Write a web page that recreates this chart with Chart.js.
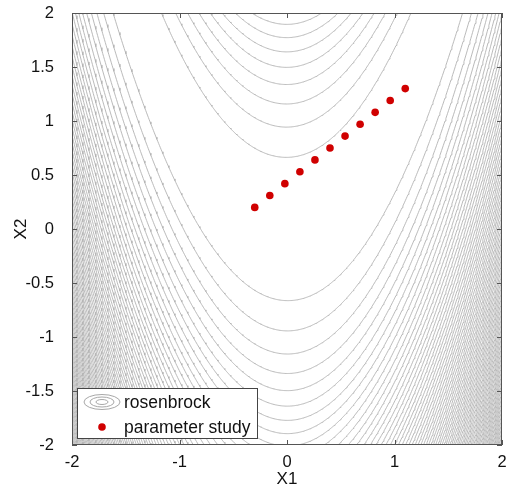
<!DOCTYPE html>
<html>
<head>
<meta charset="utf-8">
<script src="https://cdn.jsdelivr.net/npm/chart.js@4.4.1/dist/chart.umd.min.js"></script>
<style>
  html, body { margin: 0; padding: 0; background: #fff; }
  #wrap { width: 506px; height: 492px; }
</style>
</head>
<body>
<div id="wrap"><canvas id="c" width="506" height="492"></canvas></div>
<script>
// Series names shown in the legend
const seriesNames = ['rosenbrock', 'parameter study'];

// Contour levels of the Rosenbrock function f = (1-x1)^2 + 100(x2-x1^2)^2
const contourLevels = [
  45, 90, 135, 180, 225, 270, 315, 360, 405, 450,
  495, 540, 585, 630, 675, 720, 765, 810, 855, 900,
  945, 990, 1035, 1080, 1125, 1170, 1215, 1260, 1305, 1350,
  1395, 1440, 1485, 1530, 1575, 1620, 1665, 1710, 1755, 1800,
  1845, 1890, 1935, 1980, 2025, 2070, 2115, 2160, 2205, 2250,
  2295, 2340, 2385, 2430, 2475, 2520, 2565, 2610, 2655, 2700,
  2745, 2790, 2835, 2880, 2925, 2970, 3015, 3060, 3105, 3150,
  3195, 3240, 3285, 3330, 3375, 3420, 3465, 3510, 3555, 3600
];

// Parameter study sample points
const studyX1 = [-0.3, -0.16, -0.02, 0.12, 0.26, 0.4, 0.54, 0.68, 0.82, 0.96, 1.1];
const studyX2 = [0.2, 0.31, 0.42, 0.53, 0.64, 0.75, 0.86, 0.97, 1.08, 1.19, 1.3];

// Axis ticks and titles
const xTickValues = [-2, -1, 0, 1, 2];
const xTickLabels = ['-2', '-1', '0', '1', '2'];
const yTickValues = [-2, -1.5, -1, -0.5, 0, 0.5, 1, 1.5, 2];
const yTickLabels = ['-2', '-1.5', '-1', '-0.5', '0', '0.5', '1', '1.5', '2'];
const axisTitles = ['X1', 'X2'];

const FONT = "'Liberation Sans', Arial, Helvetica, sans-serif";
const LINE_GRAY = '#b2b2b2';
const DOT_RED = '#d00000';
const BOX_GRAY = '#555555';

// Level set of the Rosenbrock function: x2 = x1^2 +/- sqrt((c - (1-x1)^2)/100)
function levelBranches(c) {
  const upper = [], lower = [];
  const step = 0.008;
  for (let i = 0; ; i++) {
    const x = -2.05 + i * step;
    if (x > 2.05) break;
    const r = c - (1 - x) * (1 - x);
    if (r < 0) continue;
    const s = Math.sqrt(r / 100);
    upper.push({ x: x, y: x * x + s });
    lower.push({ x: x, y: x * x - s });
  }
  return [upper, lower];
}

const datasets = [{
  label: seriesNames[1],
  data: studyX1.map((x, i) => ({ x: x, y: studyX2[i] })),
  showLine: false,
  pointRadius: 3.8,
  pointHoverRadius: 3.8,
  pointBackgroundColor: DOT_RED,
  pointBorderWidth: 0,
  backgroundColor: DOT_RED,
  borderColor: DOT_RED
}];

contourLevels.forEach(c => {
  levelBranches(c).forEach(branch => {
    datasets.push({
      label: seriesNames[0],
      data: branch,
      showLine: true,
      pointRadius: 0,
      borderColor: LINE_GRAY,
      borderWidth: 0.9,
      tension: 0,
      fill: false
    });
  });
});

// Frame with inward ticks on all four sides, plus the boxed legend
const framePlugin = {
  id: 'frame',
  afterDraw(chart) {
    const { ctx, chartArea: a, scales } = chart;
    ctx.save();
    ctx.strokeStyle = BOX_GRAY;
    ctx.lineWidth = 1;
    ctx.strokeRect(Math.round(a.left) + 0.5, Math.round(a.top) + 0.5,
      Math.round(a.right - a.left) - 1, Math.round(a.bottom - a.top) - 1);
    ctx.beginPath();
    xTickValues.forEach(v => {
      const px = Math.round(scales.x.getPixelForValue(v)) + 0.5;
      ctx.moveTo(px, a.bottom); ctx.lineTo(px, a.bottom - 5);
      ctx.moveTo(px, a.top); ctx.lineTo(px, a.top + 5);
    });
    yTickValues.forEach(v => {
      const py = Math.round(scales.y.getPixelForValue(v)) + 0.5;
      ctx.moveTo(a.left, py); ctx.lineTo(a.left + 5, py);
      ctx.moveTo(a.right, py); ctx.lineTo(a.right - 5, py);
    });
    ctx.stroke();

    // legend box
    const lx = 77, ly = 388, lw = 180, lh = 50;
    ctx.fillStyle = '#ffffff';
    ctx.fillRect(lx, ly, lw, lh);
    ctx.strokeStyle = '#444444';
    ctx.strokeRect(lx + 0.5, ly + 0.5, lw, lh);

    // contour icon
    ctx.strokeStyle = '#a8a8a8';
    ctx.lineWidth = 1;
    [[18, 7.5], [12, 5], [6, 2.5]].forEach(([rx, ry]) => {
      ctx.beginPath();
      ctx.ellipse(102, 402, rx, ry, 0, 0, Math.PI * 2);
      ctx.stroke();
    });
    // dot icon
    ctx.fillStyle = DOT_RED;
    ctx.beginPath();
    ctx.arc(102, 427, 3.8, 0, Math.PI * 2);
    ctx.fill();

    ctx.fillStyle = '#111111';
    ctx.font = '17.5px ' + FONT;
    ctx.textAlign = 'left';
    ctx.textBaseline = 'middle';
    ctx.fillText(seriesNames[0], 124, 403);
    ctx.fillText(seriesNames[1], 124, 428);
    ctx.restore();
  }
};

new Chart(document.getElementById('c'), {
  type: 'scatter',
  data: { datasets: datasets },
  options: {
    responsive: false,
    animation: false,
    parsing: false,
    normalized: true,
    events: [],
    layout: { padding: { left: 0, right: 4, top: 13, bottom: 0 } },
    plugins: { legend: { display: false }, tooltip: { enabled: false } },
    scales: {
      x: {
        type: 'linear', min: -2, max: 2,
        grid: { display: false },
        border: { display: false },
        afterBuildTicks: s => { s.ticks = xTickValues.map(v => ({ value: v })); },
        afterFit: s => { s.height = 47; s.paddingLeft = 0; s.paddingRight = 0; },
        ticks: {
          color: '#111', padding: 0, maxRotation: 0,
          font: { family: FONT, size: 16.5 },
          callback: v => xTickLabels[xTickValues.indexOf(v)]
        },
        title: {
          display: true, text: axisTitles[0], color: '#111',
          font: { family: FONT, size: 17 },
          padding: { top: 2, bottom: 2 }
        }
      },
      y: {
        type: 'linear', min: -2, max: 2,
        grid: { display: false },
        border: { display: false },
        afterBuildTicks: s => { s.ticks = yTickValues.map(v => ({ value: v })); },
        afterFit: s => { s.width = 72; s.paddingTop = 0; s.paddingBottom = 0; },
        ticks: {
          color: '#111', padding: 10,
          font: { family: FONT, size: 16.5 },
          callback: v => yTickLabels[yTickValues.indexOf(v)]
        },
        title: {
          display: true, text: axisTitles[1], color: '#111',
          font: { family: FONT, size: 17 },
          padding: { top: 11, bottom: 11 }
        }
      }
    }
  },
  plugins: [framePlugin]
});
</script>
</body>
</html>
